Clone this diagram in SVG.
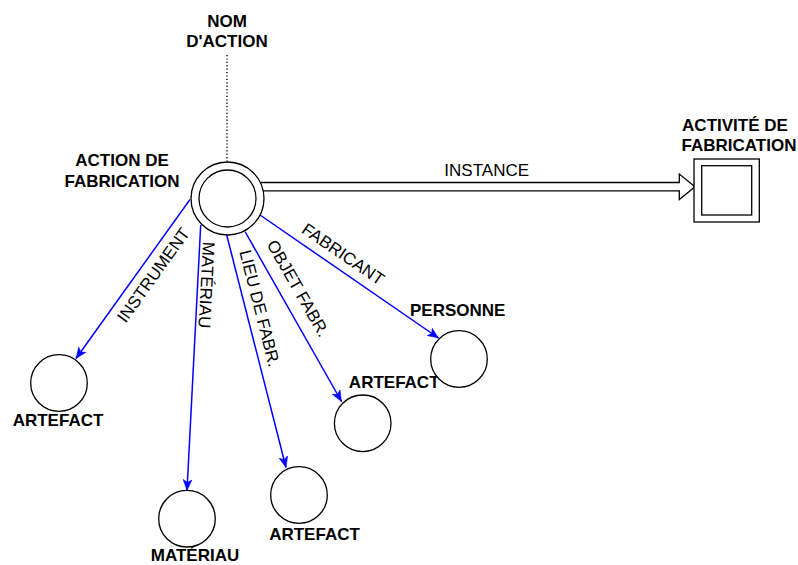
<svg xmlns="http://www.w3.org/2000/svg" width="798" height="565" viewBox="0 0 798 565">
  <style>
    .bg { fill: #ffffff; }
    .node { fill: #ffffff; stroke: #000000; stroke-width: 1.3; }
    .title { font-family: "Liberation Sans", Arial, sans-serif; font-size: 17px; font-weight: bold; fill: #000000; text-anchor: middle; }
    .elabel { font-family: "Liberation Sans", Arial, sans-serif; font-size: 17px; fill: #000000; text-anchor: middle; }
    .edge { fill: none; stroke: #0000ff; stroke-width: 1.5; marker-end: url(#arrow); }
    .dotted { fill: none; stroke: #000000; stroke-width: 1.4; stroke-dasharray: 1.2 2.2; }
    .instance { fill: #ffffff; stroke: #000000; stroke-width: 1.3; stroke-linejoin: miter; }
  </style>
  <defs>
    <marker id="arrow" markerUnits="userSpaceOnUse" markerWidth="12" markerHeight="10" viewBox="0 0 12 10" refX="11" refY="5" orient="auto">
      <path d="M0,0.5 L11,5 L0,9.5 L3,5 Z" fill="#0000ff" stroke="#0000ff" stroke-width="0.5"/>
    </marker>
  </defs>
  <rect class="bg" x="0" y="0" width="798" height="565"/>

  <g id="connectors">
    <line class="dotted" x1="227" y1="55" x2="227" y2="162"/>
    <path id="edge-instance" class="instance" d="M261,182.5 H679.3 V174 L695,186.8 L679.3,199.6 V190.9 H261"/>
    <line id="edge-instrument" class="edge" x1="190" y1="199.5" x2="76" y2="358.5"/>
    <line id="edge-materiau" class="edge" x1="200.7" y1="225" x2="187" y2="490.5"/>
    <line id="edge-lieu" class="edge" x1="226.7" y1="235" x2="286" y2="467.5"/>
    <line id="edge-objet" class="edge" x1="245" y1="231.5" x2="341.5" y2="401.5"/>
    <line id="edge-fabricant" class="edge" x1="260" y1="215" x2="438.5" y2="338"/>
    <text class="elabel" x="486.7" y="176">INSTANCE</text>
    <text class="elabel" transform="translate(153.3,275) rotate(-54.4)" x="0" y="6">INSTRUMENT</text>
    <text class="elabel" transform="translate(206.7,285) rotate(93)" x="0" y="6">MATÉRIAU</text>
    <text class="elabel" transform="translate(260,308.3) rotate(75.7)" x="0" y="6">LIEU DE FABR.</text>
    <text class="elabel" transform="translate(298.3,288.3) rotate(60.4)" x="0" y="6">OBJET FABR.</text>
    <text class="elabel" transform="translate(343.3,254) rotate(34.4)" x="0" y="6">FABRICANT</text>
  </g>

  <g id="nom-action">
    <text class="title" x="227" y="26.7">NOM</text>
    <text class="title" x="227" y="47.3">D'ACTION</text>
  </g>

  <g id="action-fabrication">
    <circle class="node" cx="227.5" cy="198.5" r="36.5"/>
    <circle class="node" cx="227.5" cy="198.5" r="28.5"/>
    <text class="title" x="122" y="165.7">ACTION DE</text>
    <text class="title" x="122" y="186.7">FABRICATION</text>
  </g>

  <g id="activite-fabrication">
    <rect class="node" x="694" y="159" width="65.3" height="63"/>
    <rect class="node" x="701.7" y="165.7" width="50" height="49.3"/>
    <text class="title" x="735" y="130.5">ACTIVITÉ DE</text>
    <text class="title" x="739" y="150.5">FABRICATION</text>
  </g>

  <g id="artefact-instrument">
    <circle class="node" cx="59" cy="383" r="28.3"/>
    <text class="title" x="58" y="425.7">ARTEFACT</text>
  </g>

  <g id="materiau">
    <circle class="node" cx="187" cy="518.7" r="28.3"/>
    <text class="title" x="195" y="561">MATÉRIAU</text>
  </g>

  <g id="artefact-lieu">
    <circle class="node" cx="299" cy="495" r="28.3"/>
    <text class="title" x="314.5" y="540">ARTEFACT</text>
  </g>

  <g id="artefact-objet">
    <circle class="node" cx="362.7" cy="423.3" r="28.3"/>
    <text class="title" x="394.2" y="388.3">ARTEFACT</text>
  </g>

  <g id="personne">
    <circle class="node" cx="459" cy="359" r="28.3"/>
    <text class="title" x="457.7" y="316">PERSONNE</text>
  </g>
</svg>
